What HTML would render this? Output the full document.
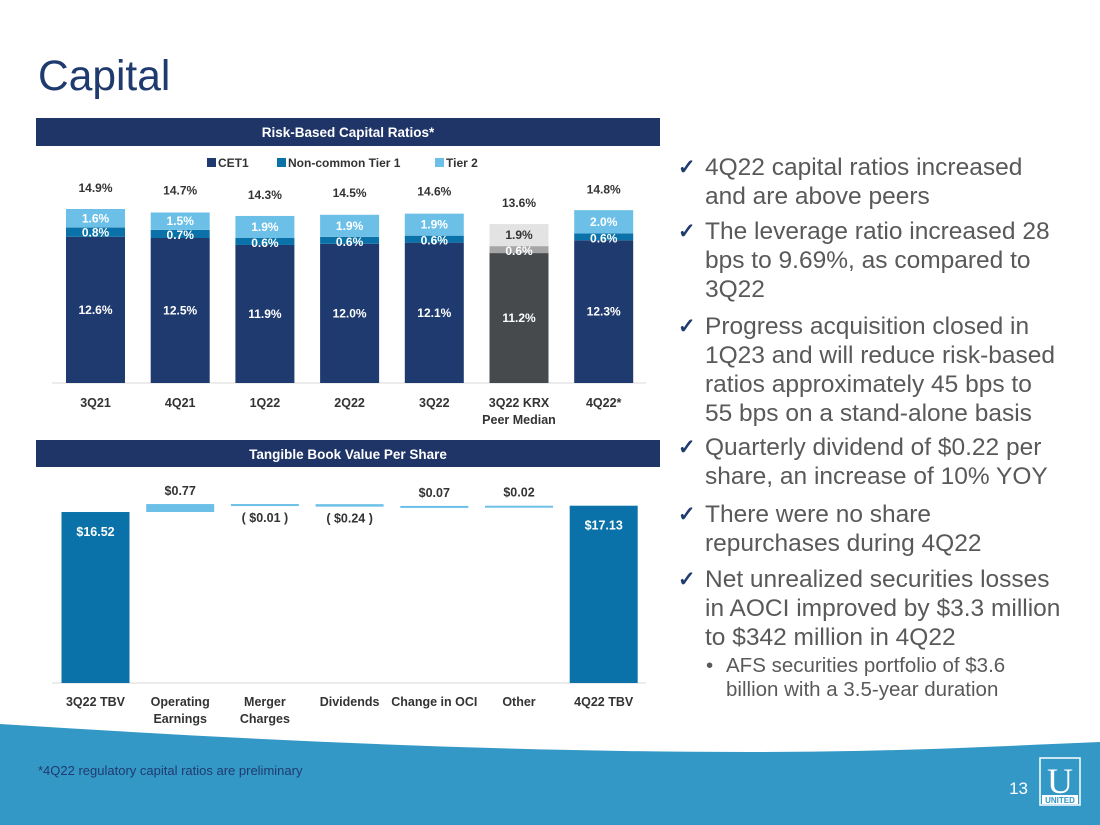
<!DOCTYPE html>
<html><head><meta charset="utf-8"><style>
html,body{margin:0;padding:0;background:#fff;}
svg{display:block;font-family:"Liberation Sans",sans-serif;}
</style></head><body>
<svg width="1100" height="825" viewBox="0 0 1100 825">
<text x="38" y="90" font-size="42.5" fill="#1f3a6e">Capital</text>

<rect x="36" y="118" width="624" height="28" fill="#1f3467"/>
<text x="348" y="137" font-size="13.5" font-weight="bold" fill="#fff" text-anchor="middle">Risk-Based Capital Ratios*</text>

<g>
<rect x="207" y="158" width="9" height="9" fill="#1f3a6e"/><text x="218" y="167" font-size="12" font-weight="bold" fill="#333">CET1</text>
<rect x="277" y="158" width="9" height="9" fill="#0a72a8"/><text x="288" y="167" font-size="12" font-weight="bold" fill="#333">Non-common Tier 1</text>
<rect x="435" y="158" width="9" height="9" fill="#6cc0e8"/><text x="446" y="167" font-size="12" font-weight="bold" fill="#333">Tier 2</text>
</g>
<line x1="52" y1="383" x2="646" y2="383" stroke="#d9d9d9"/>
<g id="cap"></g>

<rect x="36" y="440" width="624" height="27" fill="#1f3467"/>
<text x="348" y="459" font-size="13.5" font-weight="bold" fill="#fff" text-anchor="middle">Tangible Book Value Per Share</text>
<line x1="52" y1="683" x2="646" y2="683" stroke="#d9d9d9"/>
<g id="tbv"></g>

<g font-size="24.5" fill="#595959">
<g fill="#1f3a6e" font-size="21" font-weight="bold"><text x="678" y="174">✓</text><text x="678" y="238">✓</text><text x="678" y="333">✓</text><text x="678" y="454">✓</text><text x="678" y="521">✓</text><text x="678" y="586">✓</text></g>
<text x="705" y="175">4Q22 capital ratios increased</text>
<text x="705" y="204">and are above peers</text>
<text x="705" y="239">The leverage ratio increased 28</text>
<text x="705" y="268">bps to 9.69%, as compared to</text>
<text x="705" y="297">3Q22</text>
<text x="705" y="334">Progress acquisition closed in</text>
<text x="705" y="363">1Q23 and will reduce risk-based</text>
<text x="705" y="392">ratios approximately 45 bps to</text>
<text x="705" y="421">55 bps on a stand-alone basis</text>
<text x="705" y="455">Quarterly dividend of $0.22 per</text>
<text x="705" y="484">share, an increase of 10% YOY</text>
<text x="705" y="522">There were no share</text>
<text x="705" y="551">repurchases during 4Q22</text>
<text x="705" y="587">Net unrealized securities losses</text>
<text x="705" y="616">in AOCI improved by $3.3 million</text>
<text x="705" y="645">to $342 million in 4Q22</text>
<g font-size="20.5"><text x="706" y="672">•</text><text x="726" y="672">AFS securities portfolio of $3.6</text><text x="726" y="696">billion with a 3.5-year duration</text></g>
</g>

<path d="M0,724 C250,740 500,752 750,752 C900,752 1000,746 1100,742 L1100,825 L0,825 Z" fill="#3498c6"/>
<text x="38" y="775" font-size="13" fill="#1f3a6e">*4Q22 regulatory capital ratios are preliminary</text>
<text x="1028" y="794" font-size="17" fill="#fff" text-anchor="end">13</text>
<g>
<rect x="1040" y="758" width="40" height="47" fill="none" stroke="#fff" stroke-width="1.5"/>
<text x="1060" y="793" font-size="36" fill="#fff" text-anchor="middle" font-family="Liberation Serif,serif">U</text>
<rect x="1042" y="795" width="36" height="9" fill="#fff"/>
<text x="1060" y="803" font-size="8" fill="#3498c6" text-anchor="middle" font-weight="bold">UNITED</text>
</g>
</svg>
<script>
const capCats=["3Q21","4Q21","1Q22","2Q22","3Q22","3Q22 KRX|Peer Median","4Q22*"];
const cet1=[12.6,12.5,11.9,12.0,12.1,11.2,12.3];
const nonCommon=[0.8,0.7,0.6,0.6,0.6,0.6,0.6];
const tier2=[1.6,1.5,1.9,1.9,1.9,1.9,2.0];
const totals=[14.9,14.7,14.3,14.5,14.6,13.6,14.8];
const tbvCats=["3Q22 TBV","Operating|Earnings","Merger|Charges","Dividends","Change in OCI","Other","4Q22 TBV"];
const tbvVals=[16.52,0.77,-0.01,-0.24,0.07,0.02,17.13];
const tbvLabels=["$16.52","$0.77","( $0.01 )","( $0.24 )","$0.07","$0.02","$17.13"];

const NS="http://www.w3.org/2000/svg";
function mk(p,tag,a,txt){const e=document.createElementNS(NS,tag);for(const k in a)e.setAttribute(k,a[k]);if(txt!=null)e.textContent=txt;p.appendChild(e);return e;}
const cx=i=>95.5+i*84.7;
const capBase=383, capK=11.6;
const cy=v=>capBase-v*capK;
const cap=document.getElementById('cap');
capCats.forEach((c,i)=>{
  const peer=i===5;
  const cols=peer?["#474a4d","#a6a6a6","#e3e3e3"]:["#1f3a6e","#0a72a8","#6cc0e8"];
  const segs=[cet1[i],nonCommon[i],tier2[i]];
  let acc=0;
  segs.forEach((v,j)=>{
    const r=mk(cap,'rect',{x:cx(i)-29.5,y:cy(acc+v),width:59,height:v*capK,fill:cols[j]});
    
    
    const ly=j===1?cy(acc+v)+9:cy(acc+v/2)+4;
    const t=mk(cap,'text',{x:cx(i),y:ly,'font-size':12,'font-weight':'bold',fill:peer&&j===2?'#333':'#fff','text-anchor':'middle'},segs[j].toFixed(1)+'%');
    
    
    acc+=v;
  });
  const tt=mk(cap,'text',{x:cx(i),y:cy(totals[i])-18,'font-size':12,'font-weight':'bold',fill:'#333','text-anchor':'middle'},totals[i].toFixed(1)+'%');
  
  
  c.split('|').forEach((s,k)=>{
    const x=mk(cap,'text',{x:cx(i),y:407+k*17,'font-size':12.5,'font-weight':'bold',fill:'#333','text-anchor':'middle'},s);
    
    
  });
});
const tbvBase=683, tK=10.35;
const ty=v=>tbvBase-v*tK;
const tbv=document.getElementById('tbv');
let run=0;
tbvVals.forEach((v,i)=>{
  let y0,y1,fill,w=68;
  if(i===0||i===tbvVals.length-1){y0=ty(v);y1=tbvBase;fill='#0a72a8';run=v;}
  else{const a=run,b=run+v;y0=ty(Math.max(a,b));y1=ty(Math.min(a,b));if(y1-y0<2)y1=y0+2;fill='#6cc0e8';run=b;}
  const r=mk(tbv,'rect',{x:cx(i)-w/2,y:y0,width:w,height:y1-y0,fill:fill});
  
  
  const total=(i===0||i===tbvVals.length-1);
  const ly=total?y0+24:(v>=0?y0-9:y1+16);
  const t=mk(tbv,'text',{x:cx(i),y:ly,'font-size':12.5,'font-weight':'bold',fill:total?'#fff':'#333','text-anchor':'middle'},tbvLabels[i]);
  
  
  tbvCats[i].split('|').forEach((s,k)=>{
    const x=mk(tbv,'text',{x:cx(i),y:706+k*17,'font-size':12.5,'font-weight':'bold',fill:'#333','text-anchor':'middle'},s);
    
    
  });
});
</script>
</body></html>
